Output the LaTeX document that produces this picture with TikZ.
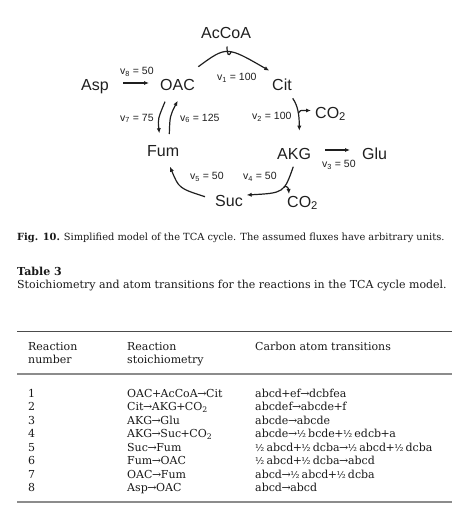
\documentclass[tikz,border=0pt]{standalone}
\usepackage{fontspec}
\usepackage{graphicx}
\setmainfont{DejaVu Serif}
\newfontfamily\dsans{Liberation Sans}
\usetikzlibrary{arrows.meta}
\newcommand\tpl{\kern-0.05em+\kern-0.05em}
\newcommand\tra{\kern-0.04em→\kern-0.04em}
\newcommand\thalf{\scalebox{0.86}{½}\hspace{0.2em}}
\begin{document}
\begin{tikzpicture}[x=1pt,y=-1pt,
  met/.style={font=\dsans\fontsize{16}{16}\selectfont, inner sep=0pt, anchor=base west, text=black!88},
  flux/.style={font=\dsans\fontsize{10.5}{10.5}\selectfont, inner sep=0pt, anchor=base west, text=black!88},
  arr/.style={line width=1.2pt, draw=black!88, -{Latex[length=5pt,width=4.2pt]}},
  ln/.style={line width=1.2pt, draw=black!88},
  captxt/.style={font=\fontsize{9.85}{12}\selectfont, inner sep=0pt, anchor=base west, text=black!90},
  tcap/.style={font=\fontsize{11}{13}\selectfont, inner sep=0pt, anchor=base west, text=black!90},
  tb/.style={font=\fontsize{11}{13}\selectfont, inner sep=0pt, anchor=base west, text=black!90},
  rulethin/.style={line width=0.8pt, draw=black!70},
  rulethick/.style={line width=2pt, draw=black!45}]
\useasboundingbox (0,0) rectangle (461,517);
% metabolites
\node[met] (AcCoA) at (201,38.3) {AcCoA};
\node[met] (Asp) at (81,90.5) {Asp};
\node[met] (OAC) at (160,90.7) {OAC};
\node[met] (Cit) at (272,90.5) {Cit};
\node[met] (CO2a) at (315,118) {CO\textsubscript{2}};
\node[met] (AKG) at (277,159) {AKG};
\node[met] (Glu) at (362,159) {Glu};
\node[met] (Fum) at (147,156.7) {Fum};
\node[met] (Suc) at (215,206) {Suc};
\node[met] (CO2b) at (287,207) {CO\textsubscript{2}};
% fluxes
\node[flux] (f8) at (120,74.5) {v\textsubscript{8} = 50};
\node[flux] (f1) at (217,80.5) {v\textsubscript{1} = 100};
\node[flux] (f7) at (120,121) {v\textsubscript{7} = 75};
\node[flux] (f6) at (180,121) {v\textsubscript{6} = 125};
\node[flux] (f2) at (252,119.5) {v\textsubscript{2} = 100};
\node[flux] (f3) at (322,167.5) {v\textsubscript{3} = 50};
\node[flux] (f5) at (190,179.5) {v\textsubscript{5} = 50};
\node[flux] (f4) at (243,179.5) {v\textsubscript{4} = 50};
% connectors
\draw[arr] ([shift={(42,-7.5)}]Asp.base west) -- ([shift={(-11,-7.7)}]OAC.base west);
\draw[arr] ([shift={(38.3,-24)}]OAC.base west) .. controls (226.5,46) .. ([shift={(-2.7,-19.8)}]Cit.base west) coordinate[pos=0.55] (j1);
\draw[ln] ([shift={(26,8.2)}]AcCoA.base west) .. controls (227,54) and (228.5,57.6) .. (j1);
\draw[arr] ([shift={(20.7,7.8)}]Cit.base west) .. controls (298,106) and (299.3,115) .. ([shift={(22.3,-28.3)}]AKG.base west) coordinate[pos=0.55] (j2);
\draw[arr] (j2) .. controls (299,110) and (301,110.5) .. ([shift={(-4,-7.5)}]CO2a.base west);
\draw[arr] ([shift={(48,-9)}]AKG.base west) -- ([shift={(-12,-9)}]Glu.base west);
\draw[arr] ([shift={(16.3,7.7)}]AKG.base west) .. controls (284,193) .. ([shift={(31.7,-11)}]Suc.base west) coordinate[pos=0.4] (j3);
\draw[arr] (j3) .. controls (285.5,184.5) and (288.5,188) .. ([shift={(2,-13)}]CO2b.base west);
\draw[arr] ([shift={(-10,-9.3)}]Suc.base west) .. controls (179,188.3) .. ([shift={(23,10)}]Fum.base west);
\draw[arr] ([shift={(5,11)}]OAC.base west) .. controls (157.8,119) .. ([shift={(12.3,-23.4)}]Fum.base west);
\draw[arr] ([shift={(22.3,-22.7)}]Fum.base west) .. controls (169.9,116) .. ([shift={(17.7,10)}]OAC.base west);
% caption
\node[captxt] (caption) at (17,240) {\textbf{Fig. 10.}\hspace{0.4em}Simplified model of the TCA cycle. The assumed fluxes have arbitrary units.};
\node[tcap] (tabno) at (17,275) {\textbf{Table 3}};
\node[tcap] (tabcap) at (17,288.3) {Stoichiometry and atom transitions for the reactions in the TCA cycle model.};
% table
\draw[rulethin] (17,331) -- (452,331);
\node[tb] (h1a) at (28,350) {Reaction};
\node[tb] (h1b) at (28,363) {number};
\node[tb] (h2a) at (127,350) {Reaction};
\node[tb] (h2b) at (127,363) {stoichiometry};
\node[tb] (h3) at (255,350) {Carbon atom transitions};
\draw[rulethick] (17,374) -- (452,374);
\foreach \n/\s/\c [count=\i] in {
  1/{OAC\tpl AcCoA\tra Cit}/{abcd\tpl ef\tra dcbfea},
  2/{Cit\tra AKG\tpl CO\textsubscript{2}}/{abcdef\tra abcde\tpl f},
  3/{AKG\tra Glu}/{abcde\tra abcde},
  4/{AKG\tra Suc\tpl CO\textsubscript{2}}/{abcde\tra\thalf bcde\tpl\thalf edcb\tpl a},
  5/{Suc\tra Fum}/{\thalf abcd\tpl\thalf dcba\tra\thalf abcd\tpl\thalf dcba},
  6/{Fum\tra OAC}/{\thalf abcd\tpl\thalf dcba\tra abcd},
  7/{OAC\tra Fum}/{abcd\tra\thalf abcd\tpl\thalf dcba},
  8/{Asp\tra OAC}/{abcd\tra abcd}}{
  \pgfmathsetmacro\yy{397+(\i-1)*13.5}
  \node[tb] (n\i) at (28,\yy) {\n};
  \node[tb] (s\i) at (127,\yy) {\s};
  \node[tb] (c\i) at (255,\yy) {\c};
}
\draw[rulethick] (17,502) -- (452,502);
\end{tikzpicture}
\end{document}
